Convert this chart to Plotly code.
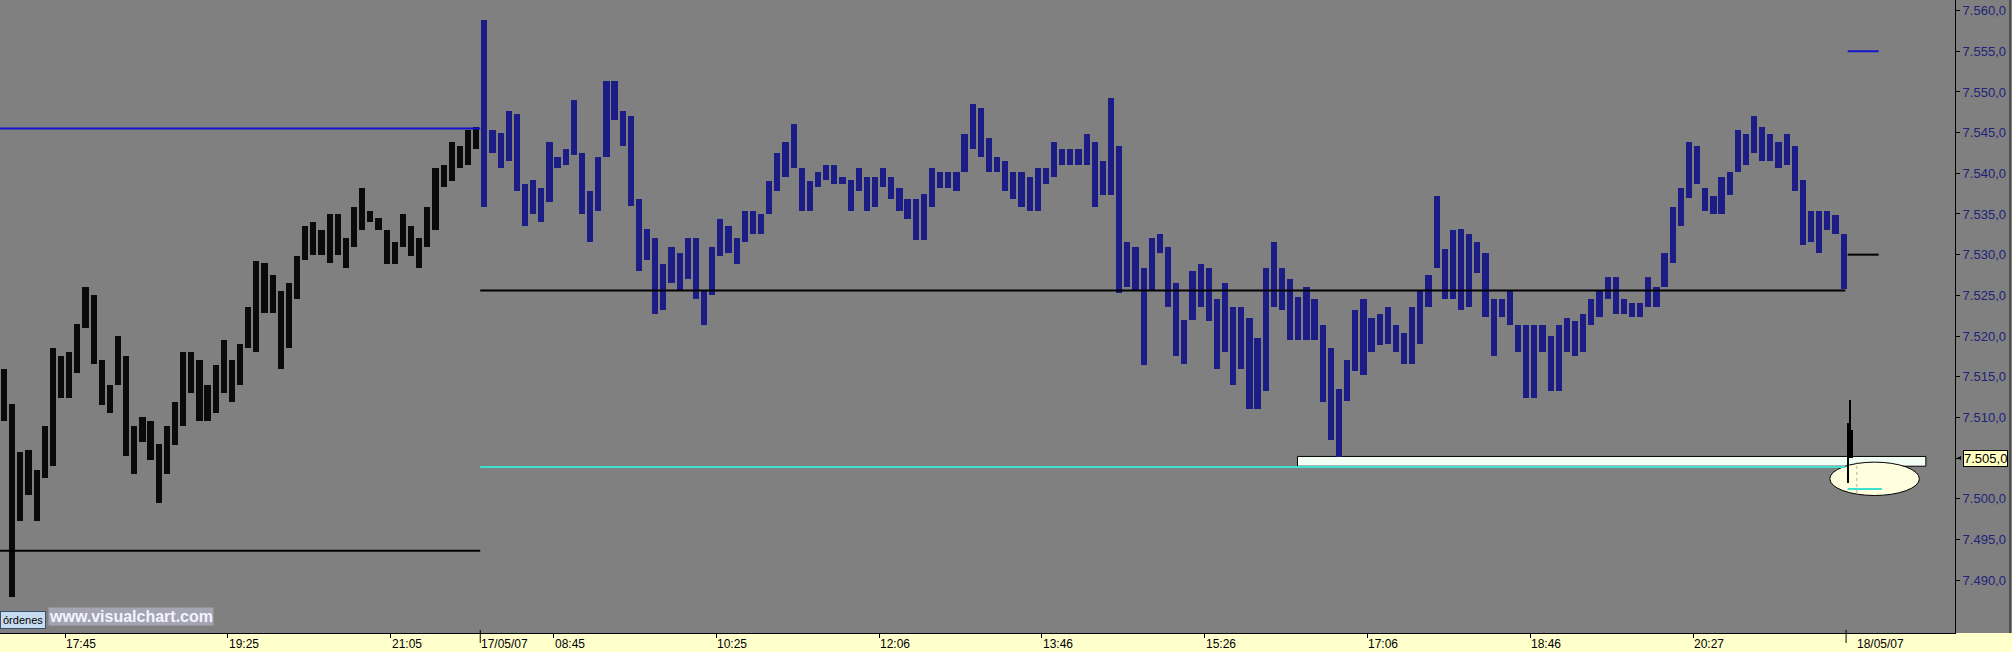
import numpy as np
import plotly.graph_objects as go

# ---------------- data (5-minute high/low) ----------------
day1_high = [7516, 7511.7, 7505.8, 7506, 7503.5, 7509, 7518.5, 7517.5, 7518, 7521.5,
             7526, 7525, 7517, 7514, 7520, 7517.5, 7509, 7510, 7509.5, 7506.7,
             7509, 7511.9, 7518, 7518, 7517, 7514, 7516.5, 7519.5, 7517, 7519,
             7523.6, 7529.2, 7529, 7527.5, 7525.5, 7526.5, 7529.8, 7533.5, 7534, 7533,
             7535, 7535, 7532, 7535.8, 7538.2, 7535.4, 7534.5, 7533, 7531.6, 7535,
             7533.5, 7532, 7535.8, 7540.6, 7541, 7543.8, 7543.3, 7545.3, 7545.7]
day1_low = [7509.5, 7487.9, 7497.3, 7500.5, 7497.3, 7502.5, 7504, 7512.4, 7512.4, 7515.5,
            7521, 7516.6, 7511.5, 7510.5, 7514, 7505.3, 7503, 7507, 7504.8, 7499.5,
            7503, 7506.6, 7509, 7513, 7509.5, 7509.5, 7510.6, 7513, 7511.9, 7514,
            7518.5, 7518, 7522.8, 7522.8, 7516, 7518.5, 7524.6, 7529.3, 7530, 7530,
            7529, 7530, 7528.4, 7531, 7533, 7534, 7533, 7528.8, 7528.8, 7531,
            7529.8, 7528.4, 7531, 7533, 7538.3, 7539, 7540.6, 7541, 7543]

day2_high = [7558.9, 7545.3, 7545, 7547.6, 7547.3, 7538.7, 7539.2, 7538.2, 7543.8, 7542,
             7543, 7549, 7542.5, 7537.8, 7542, 7551.4, 7551.4, 7547.6, 7547, 7536.8,
             7533.1, 7532, 7528.8, 7531, 7530.2, 7532, 7532, 7525.6, 7531, 7534.4,
             7533.5, 7532, 7535.4, 7535.4, 7535, 7539, 7542.5, 7543.8, 7546.1, 7540.6,
             7539, 7540.1, 7541, 7541, 7539.6, 7539.2, 7540.6, 7539.6, 7539.6, 7540.6,
             7539.6, 7538.2, 7536.8, 7536.8, 7537.4, 7540.6, 7540.1, 7540.1, 7540.1, 7544.8,
             7548.5, 7548, 7544.3, 7542, 7541.5, 7540.1, 7540.1, 7539.6, 7540.6, 7540.6,
             7543.8, 7543, 7543, 7543, 7544.8, 7543.8, 7541.5, 7549.3, 7543.4, 7531.6,
             7531, 7528.4, 7532, 7532.6, 7531, 7526.5, 7522, 7528, 7528.8, 7528.4,
             7524.6, 7526.5, 7523.6, 7523.6, 7522.2, 7519.8, 7528.4, 7531.6, 7528.4, 7527,
             7524.8, 7526, 7524.6, 7521.3, 7518.5, 7513.5, 7517.1, 7523.2, 7524.6, 7522.2,
             7522.7, 7523.6, 7521.3, 7520.4, 7523.6, 7525.6, 7527.5, 7537.2, 7530.7, 7533,
             7533.1, 7532.6, 7531.6, 7530.2, 7524.6, 7524.6, 7525.6, 7521.3, 7521.3, 7521.3,
             7521.3, 7520, 7521.3, 7522.2, 7521.8, 7522.7, 7524.6, 7525.5, 7527.3, 7527.3,
             7524.6, 7524.1, 7524.1, 7527.3, 7526, 7530.2, 7535.8, 7538.2, 7543.8, 7543.4,
             7538.2, 7537.2, 7539.6, 7540.1, 7545.3, 7544.8, 7547.1, 7545.7, 7544.8, 7543.8,
             7544.8, 7543.4, 7539.2, 7535.4, 7535.4, 7535.4, 7534.9, 7532.6]
day2_low = [7535.9, 7542.5, 7540.6, 7541.5, 7537.8, 7533.5, 7535, 7534, 7536.5, 7540.6,
            7541, 7542.2, 7535, 7531.6, 7535.4, 7542, 7546.5, 7543.4, 7536, 7528,
            7529.3, 7522.7, 7523.2, 7526.5, 7525.5, 7527, 7524.6, 7521.3, 7525, 7529.8,
            7530.2, 7528.8, 7531.6, 7532.6, 7532.5, 7535, 7537.8, 7539.6, 7540.6, 7535.4,
            7535.4, 7538.3, 7539.2, 7538.7, 7538.7, 7535.4, 7537.8, 7535.4, 7535.9, 7538.3,
            7536.8, 7535.4, 7534.4, 7531.8, 7531.8, 7535.9, 7538.2, 7538.2, 7537.8, 7540.1,
            7543, 7542, 7540.1, 7540.1, 7537.8, 7536.8, 7535.9, 7535.4, 7535.4, 7538.7,
            7539.6, 7541, 7541, 7541, 7541, 7535.9, 7537.3, 7537.3, 7525.3, 7526,
            7525.5, 7516.4, 7525.5, 7530.2, 7523.6, 7517.5, 7516.6, 7522, 7523.6, 7521.8,
            7516, 7518, 7514, 7516, 7511, 7511, 7513.3, 7523.6, 7523.2, 7519.5,
            7519.5, 7519.5, 7519.5, 7511.9, 7507.2, 7505.1, 7512, 7515.7, 7515.2, 7518,
            7518.9, 7519, 7518, 7516.6, 7516.6, 7519, 7523.6, 7528.4, 7524.6, 7524.6,
            7523.2, 7523.6, 7527.8, 7522.3, 7517.5, 7522.3, 7521.3, 7518, 7512.4, 7512.4,
            7518, 7513.3, 7513.3, 7518, 7517.5, 7518, 7521.3, 7522.3, 7524.6, 7522.7,
            7522.7, 7522.3, 7522.3, 7523.6, 7523.6, 7526, 7529, 7533.5, 7537, 7538.7,
            7535.4, 7535, 7535, 7537.3, 7540.1, 7541, 7542.5, 7541.5, 7541.5, 7540.6,
            7541, 7537.8, 7531.2, 7531.6, 7530.2, 7533, 7532.6, 7525.8]

day3_high = [7509.3, 7512.1, 7508.5]     # first 1-minute bars of 18/05/07
day3_low = [7501.9, 7505.0, 7505.0]

# reference levels
prev_close_level = 7545.5
day1_low_level = 7493.6
day2_pivot_level = 7525.6
support_level = 7503.9
next_high_level = 7555.0
next_mid_level = 7530.0
order_level = 7505.0
order_mark_level = 7501.2
ellipse_low, ellipse_high = 7500.4, 7504.5
box_low, box_high = 7504.0, 7505.2
price_ticks = [7490, 7495, 7500, 7505, 7510, 7515, 7520, 7525, 7530, 7535,
               7540, 7545, 7550, 7555, 7560]

# time axis (trading minutes, session gap removed)
tick_minutes = [40, 140, 240, 340, 440, 540, 640, 740, 840, 940, 1040]
tick_text = ["17:45", "19:25", "21:05", "08:45", "10:25", "12:06",
             "13:46", "15:26", "17:06", "18:46", "20:27"]
day_break_minutes = [295, 1134]
day_break_text = ["17/05/07", "18/05/07"]
day_label_minutes = [295, 1140]
bar_minutes = 5
day1_start, day2_start, day3_start = 0, 295, 1135
box_start, box_end = 797, 1183
ell_start, ell_end = 1124, 1179
mark_start, mark_end = 1135, 1154

# ---------------- figure ----------------
W, H = 2012, 652
ML, MR, MT, MB = 0, 57, 0, 19
PW, PH = W - ML - MR, H - MT - MB
XMAX = 1200.9
YMIN, YMAX = 7483.5, 7561.3
GRAY = "#808080"
NAVY = "#1c1c86"
BLUE = "#1414cc"
CYAN = "#40e0d0"

fig = go.Figure()


def add_bars(start, step, hi, lo, color, width):
    hi = np.array(hi, float)
    lo = np.array(lo, float)
    x = start + step * (np.arange(len(hi)) + 0.5)
    fig.add_trace(go.Bar(x=x, y=hi - lo, base=lo, width=width,
                         marker=dict(color=color, line=dict(width=0)),
                         showlegend=False, hoverinfo="skip"))


add_bars(day1_start, bar_minutes, day1_high, day1_low, "#0a0a0a", 3.8)
add_bars(day2_start, bar_minutes, day2_high, day2_low, NAVY, 3.8)
add_bars(day3_start - 0.5, 1.3, day3_high, day3_low, "#000000", 0.75)

shapes = []


def hline(x0, x1, y, color, width=2, dash="solid", layer="above"):
    shapes.append(dict(type="line", xref="x", yref="y", x0=x0, x1=x1, y0=y, y1=y,
                       line=dict(color=color, width=width, dash=dash), layer=layer))


# order box and ellipse (below traces)
shapes.append(dict(type="rect", xref="x", yref="y", x0=box_start, x1=box_end,
                   y0=box_low, y1=box_high, fillcolor="#f2fff4",
                   line=dict(color="#000000", width=1), layer="below"))
shapes.append(dict(type="circle", xref="x", yref="y", x0=ell_start, x1=ell_end,
                   y0=ellipse_low, y1=ellipse_high, fillcolor="#ffffe0",
                   line=dict(color="#000000", width=1), layer="below"))
shapes.append(dict(type="line", xref="x", yref="y", x0=1140.6, x1=1140.6,
                   y0=ellipse_low + 0.3, y1=ellipse_high, layer="below",
                   line=dict(color="#b0b0a0", width=1, dash="dot")))

hline(day1_start, day2_start, prev_close_level, BLUE)
hline(day1_start, day2_start, day1_low_level, "#000000")
hline(day2_start, 1133.5, day2_pivot_level, "#000000")
hline(day2_start, 1133.5, support_level, CYAN)
hline(mark_start, mark_end + 2, order_mark_level, CYAN)
hline(mark_start, mark_end, next_high_level, BLUE)
hline(mark_start, mark_end, next_mid_level, "#000000")

# day separator ticks
for m in day_break_minutes:
    shapes.append(dict(type="line", xref="x", yref="paper", x0=m, x1=m,
                       y0=3 / PH, y1=-10 / PH, line=dict(color="#000000", width=1)))

# bottom yellow band, right border line
shapes.append(dict(type="rect", xref="paper", yref="paper", x0=-0.01, x1=W / PW + 0.01,
                   y0=-(MB + 2) / PH, y1=0, fillcolor="#ffffcc",
                   line=dict(width=0), layer="below"))
shapes.append(dict(type="line", xref="paper", yref="paper", x0=(W - 2) / PW, x1=(W - 2) / PW,
                   y0=0, y1=1, line=dict(color="#1a1a1a", width=1)))
# small pointer next to highlighted price
yp = (order_level - YMIN) / (YMAX - YMIN)
shapes.append(dict(type="path", xref="paper", yref="paper",
                   path=f"M {1957/PW} {yp} L {1961/PW} {yp + 2/PH} L {1961/PW} {yp - 2/PH} Z",
                   fillcolor="#000000", line=dict(width=0)))

annotations = []
for m, t in zip(tick_minutes, tick_text):
    annotations.append(dict(x=m, y=0, xref="x", yref="paper", text=t, showarrow=False,
                            xanchor="left", yanchor="top", xshift=-1, yshift=-2,
                            font=dict(family="Arial", size=12, color="#000000")))
for m, t in zip(day_label_minutes, day_break_text):
    annotations.append(dict(x=m, y=0, xref="x", yref="paper", text=t, showarrow=False,
                            xanchor="left", yanchor="top", xshift=-1, yshift=-2,
                            font=dict(family="Arial", size=12, color="#000000")))

annotations.append(dict(x=1963 / PW, y=order_level, xref="paper", yref="y",
                        text="7.505,0", showarrow=False, xanchor="left", yanchor="middle",
                        bgcolor="#ffffc0", bordercolor="#000000", borderwidth=1, borderpad=0,
                        font=dict(family="Arial", size=13, color="#000000")))
annotations.append(dict(x=48 / PW, y=16.5 / PH, xref="paper", yref="paper",
                        text="<b>www.visualchart.com</b>", showarrow=False,
                        xanchor="left", yanchor="middle", bgcolor="#a4a4b2", borderpad=0,
                        font=dict(family="Arial", size=16, color="#f4f4ff")))
annotations.append(dict(x=0, y=13 / PH, xref="paper", yref="paper",
                        text="órdenes", showarrow=False, xanchor="left", yanchor="middle",
                        bgcolor="#c8dcf0", bordercolor="#3a5070", borderwidth=1, borderpad=2,
                        font=dict(family="Arial", size=11, color="#000000")))

fig.update_layout(
    width=W, height=H, autosize=False,
    margin=dict(l=ML, r=MR, t=MT, b=MB, pad=0),
    paper_bgcolor=GRAY, plot_bgcolor=GRAY,
    separators=",.",
    barmode="overlay", bargap=0,
    showlegend=False,
    shapes=shapes, annotations=annotations,
    xaxis=dict(range=[0, XMAX], showgrid=False, zeroline=False,
               tickmode="array", tickvals=tick_minutes, ticktext=[""] * len(tick_minutes),
               ticks="outside", ticklen=4, tickcolor="#000000",
               showline=True, linecolor="#000000", linewidth=1, fixedrange=True),
    yaxis=dict(range=[YMIN, YMAX], side="right", showgrid=False, zeroline=False,
               tickmode="array", tickvals=price_ticks, tickformat=",.1f",
               ticks="outside", ticklen=4, tickcolor="#000000",
               tickfont=dict(family="Arial", size=13, color="#22227a"),
               showline=True, linecolor="#000000", linewidth=1, fixedrange=True),
)

fig.write_html("out.html", config={"displayModeBar": False},
               post_script="document.body.style.margin='0px';document.body.style.padding='0px';document.body.style.overflow='hidden';")
